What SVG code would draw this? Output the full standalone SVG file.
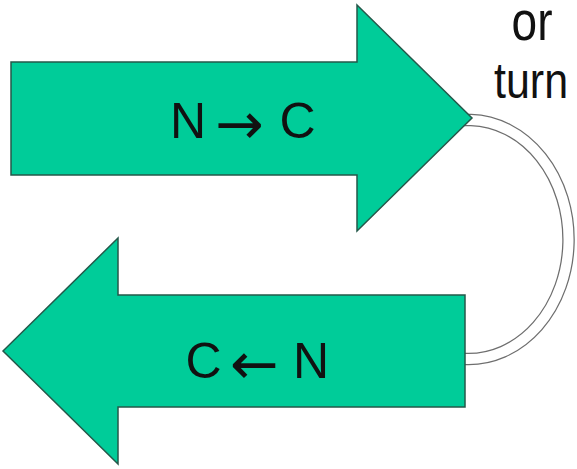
<svg xmlns="http://www.w3.org/2000/svg" width="577" height="469" viewBox="0 0 577 469">
  <style>
    .arrow { fill: #00cc99; stroke: #24584a; stroke-width: 1.5; stroke-linejoin: miter; }
    .label { font-family: "Liberation Sans", Arial, sans-serif; font-size: 50px; fill: #111; }
    .sym { font-family: "DejaVu Sans", sans-serif; font-size: 58px; }
    .note { font-family: "Liberation Sans", Arial, sans-serif; font-size: 50px; fill: #111; text-anchor: middle; }
    .loop-outer { fill: none; stroke: #6e6e6e; stroke-width: 12.5; }
    .loop-inner { fill: none; stroke: #ffffff; stroke-width: 10; }
  </style>
  <rect width="577" height="469" fill="#ffffff"/>

  <!-- double-line turn joining the two strands -->
  <g id="connectors">
    <path class="loop-outer" d="M 460 120 L 471 120 A 100 119.5 0 0 1 466 359 L 458 359"/>
    <path class="loop-inner" d="M 460 120 L 471 120 A 100 119.5 0 0 1 466 359 L 458 359"/>
  </g>

  <!-- upper strand, pointing right -->
  <g id="strand-forward">
    <polygon class="arrow" points="11,62 357,62 357,5 472,118 357,231 357,175 11,175"/>
    <text class="label" y="138"><tspan x="170">N</tspan><tspan class="sym" x="215" y="144">→</tspan><tspan x="279.5" y="138">C</tspan></text>
  </g>

  <!-- lower strand, pointing left -->
  <g id="strand-reverse">
    <polygon class="arrow" points="3,351 118,238 118,295 465,295 465,407 118,407 118,464"/>
    <text class="label" y="378"><tspan x="185.5">C</tspan><tspan class="sym" x="230" y="384">←</tspan><tspan x="293" y="378">N</tspan></text>
  </g>

  <!-- side note -->
  <g id="note-turn">
    <text class="note" transform="translate(532,40) scale(0.92,1.1)" font-size="44">or</text>
    <text class="note" transform="translate(531,98) scale(0.86,1)">turn</text>
  </g>
</svg>
